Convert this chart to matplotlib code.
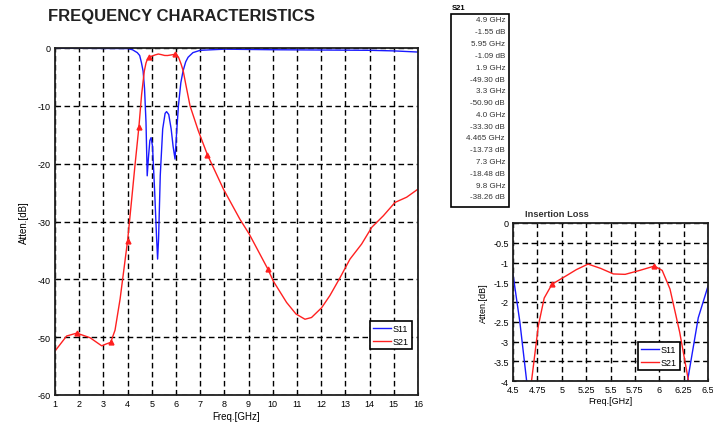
import matplotlib
matplotlib.use("Agg")
import matplotlib.pyplot as plt

plt.rcParams['font.family'] = ['Liberation Sans', 'DejaVu Sans']
plt.rcParams['axes.unicode_minus'] = False

# ---- data ----
freq_s11 = [1, 2, 3, 4.0, 4.2, 4.4, 4.5, 4.57, 4.64, 4.7, 4.76, 4.81, 4.86, 4.92, 4.97,
            5.03, 5.12, 5.2, 5.24, 5.28, 5.35, 5.45, 5.55, 5.61, 5.7, 5.8, 5.88, 5.96,
            6.02, 6.1, 6.2, 6.29, 6.4, 6.5, 6.7, 7.0, 8, 10, 12, 14, 15, 16]
s11_db = [-0.05, -0.05, -0.08, -0.1, -0.3, -0.8, -1.3, -2.5, -4.0, -7.0, -12.8, -22.1,
          -19.0, -16.0, -15.5, -17.0, -25.0, -33.0, -36.5, -33.0, -22.0, -14.0, -11.3,
          -11.0, -11.5, -14.0, -17.0, -19.2, -15.0, -10.0, -6.0, -4.0, -2.4, -1.6, -0.8,
          -0.4, -0.2, -0.3, -0.35, -0.4, -0.5, -0.7]

freq_s21 = [1, 1.48, 1.9, 2.45, 2.93, 3.1, 3.3, 3.48, 3.69, 4.0, 4.17, 4.3, 4.465, 4.58,
            4.69, 4.76, 4.82, 4.9, 5.05, 5.15, 5.27, 5.4, 5.53, 5.65, 5.8, 5.95, 6.03,
            6.11, 6.21, 6.3, 6.4, 6.58, 6.92, 7.3, 7.96, 8.64, 9.03, 9.8, 10.02, 10.57,
            10.96, 11.33, 11.6, 12.02, 12.36, 12.78, 13.19, 13.67, 14.09, 14.57, 15.05,
            15.53, 16.0]
s21_db = [-52.4, -49.8, -49.3, -50.1, -51.5, -51.2, -50.9, -48.8, -43.4, -33.3, -26.1,
          -20.5, -13.73, -8.0, -4.0, -2.6, -1.9, -1.55, -1.33, -1.18, -1.04, -1.15,
          -1.29, -1.3, -1.2, -1.09, -1.2, -1.67, -2.77, -4.0, -6.2, -10.0, -14.3,
          -18.48, -24.4, -29.6, -32.2, -38.26, -40.3, -44.0, -46.0, -46.9, -46.6,
          -44.9, -42.8, -39.7, -36.5, -33.9, -31.0, -29.0, -26.7, -25.8, -24.4]

marker_freq = [4.9, 5.95, 1.9, 3.3, 4.0, 4.465, 7.3, 9.8]
marker_db = [-1.55, -1.09, -49.30, -50.90, -33.30, -13.73, -18.48, -38.26]

main_xticks = list(range(1, 17))
main_yticks = [0, -10, -20, -30, -40, -50, -60]
inset_xticks = [4.5, 4.75, 5, 5.25, 5.5, 5.75, 6, 6.25, 6.5]
inset_xlabels = ['4.5', '4.75', '5', '5.25', '5.5', '5.75', '6', '6.25', '6.5']
inset_yticks = [0, -0.5, -1, -1.5, -2, -2.5, -3, -3.5, -4]

BLUE = '#1a1aff'
RED = '#ff2020'
W, H = 713, 431

fig = plt.figure(figsize=(W / 100, H / 100), dpi=100)


def ax_rect(l, t, r, b):
    return [l / W, 1 - b / H, (r - l) / W, (b - t) / H]


def style(ax, fs):
    for sp in ax.spines.values():
        sp.set_linewidth(1.3)
        sp.set_color('#202020')
    ax.tick_params(direction='in', length=2, width=0.8, labelsize=fs, pad=3)
    ax.grid(True, color='black', linestyle=(0, (4, 2.5)), linewidth=1.0)


def legend(ax, anchor):
    lg = ax.legend(loc='upper right', bbox_to_anchor=anchor, borderaxespad=0,
                   fancybox=False, edgecolor='black', framealpha=1, fontsize=6.5,
                   handlelength=2.0, handletextpad=0.2, borderpad=0.35,
                   labelspacing=0.45)
    lg.get_frame().set_linewidth(1.2)


# ---- main axes ----
ax = fig.add_axes(ax_rect(55, 49, 418, 396))
ax.plot(freq_s11, s11_db, color=BLUE, lw=1.0, label='S11')
ax.plot(freq_s21, s21_db, color=RED, lw=1.0, label='S21')
ax.plot(marker_freq, marker_db, linestyle='none', marker='^', color=RED, ms=3.5)
ax.set_xlim(1, 16)
ax.set_ylim(-60, 0)
ax.set_xticks(main_xticks)
ax.set_yticks(main_yticks)
style(ax, 6.5)
ax.set_xlabel('Freq.[GHz]', fontsize=7, labelpad=2)
ax.set_ylabel('Atten.[dB]', fontsize=7, labelpad=6)
legend(ax, (0.983, 0.213))

fig.text(48 / W, 1 - 16 / H, 'FREQUENCY CHARACTERISTICS', fontsize=12,
         fontweight='bold', va='center', ha='left', color='#222222')

# ---- S21 text box ----
fig.text(452 / W, 1 - 8 / H, 'S21', fontsize=5.5, fontweight='bold',
         va='center', ha='left')
box = plt.Rectangle((451 / W, 1 - 208 / H), 58 / W, 193 / H, transform=fig.transFigure,
                    fill=False, edgecolor='black', linewidth=1.2)
fig.add_artist(box)
lines = []
for f, d in zip(marker_freq, marker_db):
    lines.append(f'{f} GHz')
    lines.append(f'{d:.2f} dB')
for i, s in enumerate(lines):
    fig.text(505 / W, 1 - (21 + i * 11.8) / H, s, fontsize=5.8, ha='right',
             va='center', color='#333333')

# ---- inset ----
ax2 = fig.add_axes(ax_rect(513, 224, 708, 382))
ax2.plot(freq_s11, s11_db, color=BLUE, lw=1.0, label='S11')
ax2.plot(freq_s21, s21_db, color=RED, lw=1.0, label='S21')
ax2.plot(marker_freq, marker_db, linestyle='none', marker='^', color=RED, ms=3.5)
ax2.set_xlim(4.5, 6.5)
ax2.set_ylim(-4, 0)
ax2.set_xticks(inset_xticks)
ax2.set_xticklabels(inset_xlabels)
ax2.set_yticks(inset_yticks)
ax2.set_yticklabels([f'{v:g}' for v in inset_yticks])
style(ax2, 6.5)
ax2.set_xlabel('Freq.[GHz]', fontsize=6.5, labelpad=1)
ax2.set_ylabel('Atten.[dB]', fontsize=6.5, labelpad=4)
legend(ax2, (0.856, 0.247))
fig.text(525 / W, 1 - 215 / H, 'Insertion Loss', fontsize=6.7, fontweight='bold',
         ha='left', va='center', color='#333333')

fig.savefig('out.png', dpi=100)
